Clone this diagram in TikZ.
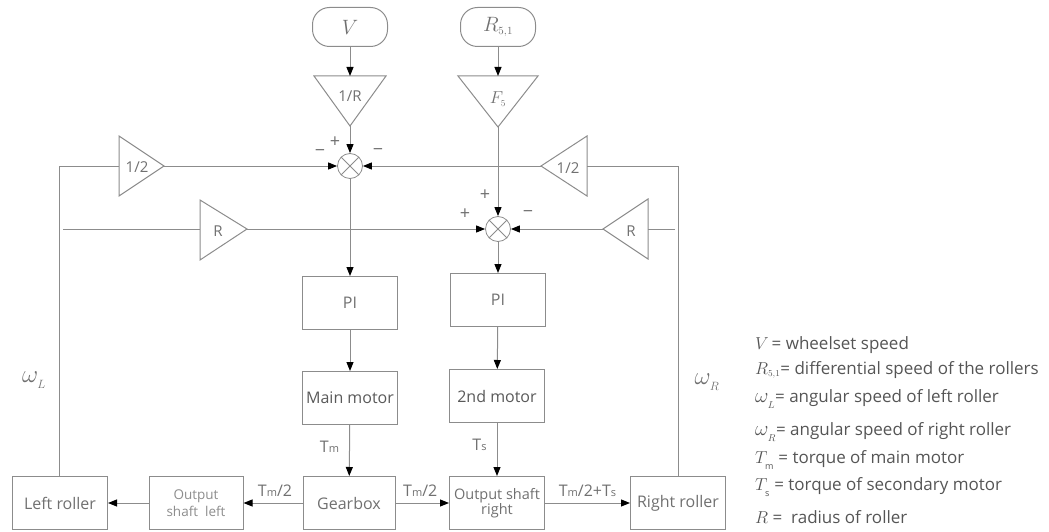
\documentclass[tikz,border=0pt]{standalone}
\usepackage{fontspec}
\setmainfont{Open Sans}
\usetikzlibrary{arrows.meta}
\definecolor{ln}{HTML}{8C8C8C}
\definecolor{tx}{HTML}{707070}
\definecolor{lg}{HTML}{555555}
\newcommand\fs[1]{\fontsize{#1}{#1}\selectfont}
\newcommand\omg[1]{$\omega_{\raisebox{-2pt}{$\scriptscriptstyle #1$}}$}
\begin{document}
\begin{tikzpicture}[x=1pt,y=-1pt,
  every node/.style={inner sep=0pt, text=tx},
  blk/.style={draw=ln, line width=1pt, minimum width=95pt, minimum height=53pt, align=center, font=\fs{16}},
  term/.style={draw=ln, line width=1pt, rounded corners=17pt, minimum width=75pt, minimum height=39pt, font=\fs{21}},
  sumj/.style={circle, draw=ln, line width=0.8pt, minimum size=25pt},
  wire/.style={draw=ln, line width=1pt},
  sig/.style={wire, -{Triangle[length=9pt,width=7pt,color=black]}},
  gain/.style={font=\fs{15}},
  sgn/.style={font=\fs{18}},
  lbl/.style={font=\fs{16}},
  leg/.style={anchor=west, text=lg, font=\fs{17}}]
\useasboundingbox (0,0) rectangle (1049,532);

% set-points
\node[term] (v) at (350,27) {$V$};
\node[term] (rs) at (498,27) {$R_{\scriptscriptstyle 5,1}$};

% gain triangles (drawn as outlines, text on top)
\draw[wire] (314,76) -- (386,76) -- (350,126) -- cycle;
\coordinate (ginvR-in) at (350,76); \coordinate (ginvR-out) at (350,126);
\node[gain] (tinvR) at (350,96) {1/R};

\draw[wire] (458,76) -- (538,76) -- (498,127) -- cycle;
\coordinate (gF-in) at (498,76); \coordinate (gF-out) at (498,127);
\node[font=\fs{19}] (tF) at (498,99) {$F_{\scriptscriptstyle 5}$};

\draw[wire] (119,136) -- (119,196) -- (164,166) -- cycle;
\coordinate (ghl-in) at (119,166); \coordinate (ghl-out) at (164,166);
\node[gain] (thl) at (137,167) {1/2};

\draw[wire] (200,200) -- (200,260) -- (247,229) -- cycle;
\coordinate (grl-in) at (200,229); \coordinate (grl-out) at (247,229);
\node[gain] (trl) at (218,231) {R};

\draw[wire] (587,136) -- (587,196) -- (541,166) -- cycle;
\coordinate (ghr-in) at (587,166); \coordinate (ghr-out) at (541,166);
\node[gain] (thr) at (568,168) {1/2};

\draw[wire] (648,199) -- (648,259) -- (603,229) -- cycle;
\coordinate (grr-in) at (648,229); \coordinate (grr-out) at (603,229);
\node[gain] (trr) at (631,231) {R};

% summing junctions
\node[sumj] (j1) at (350,166) {};
\node[sumj] (j2) at (498,229) {};
\foreach \j in {j1,j2}
  \draw[ln, line width=0.8pt] (\j.north west) -- (\j.south east) (\j.north east) -- (\j.south west);

\node[sgn] (p1) at (335,142) {+};
\node[sgn] (m1l) at (320,153) {−};
\node[sgn] (m1r) at (378,152) {−};
\node[sgn] (p2t) at (485,195) {+};
\node[sgn] (p2l) at (465,214) {+};
\node[sgn] (m2r) at (528,214) {−};

% controller and motors
\node[blk] (pi1) at (350,303) {PI};
\node[blk] (pi2) at (498,300) {PI};
\node[blk, text=black!65] (mm) at (350,398) {Main motor};
\node[blk, text=black!65] (sm) at (497,396) {2nd motor};

% drivetrain
\node[blk, minimum width=92pt] (gb) at (349,503) {Gearbox};
\node[blk, minimum width=94pt, font=\fs{13.5}, text=tx!80, align=center] (osl) at (196,503) {Output\\[2pt]shaft\ \ left};
\node[blk, font=\fs{14.5}] (osr) at (497,503) {Output shaft\\[1pt]right};
\node[blk] (lr) at (60,503) {Left roller};
\node[blk] (rr) at (678,503) {Right roller};

% line stubs that feed the R gains
\coordinate (ls) at (63,229);
\coordinate (rsb) at (675,229);

% forward paths
\draw[sig] (v) -- (ginvR-in);
\draw[sig] (rs) -- (gF-in);
\draw[sig] (ginvR-out) -- (j1);
\draw[sig] (gF-out) -- (j2);
\draw[sig] (j1) -- (pi1);
\draw[sig] (j2) -- (pi2);
\draw[sig] (pi1) -- (mm);
\draw[sig] (pi2) -- (sm);
\draw[sig] (mm) -- node[lbl, pos=0.42, left=10pt] (ltm) {T\fs{11}m} (gb);
\draw[sig] (sm) -- node[lbl, pos=0.42, left=10pt] (lts) {T\fs{11}s} (osr);
\draw[sig] (gb) -- node[lbl, above=6pt, xshift=2pt] (ltm2a) {T\fs{11}m\fs{16}/2} (osl);
\draw[sig] (osl) -- (lr);
\draw[sig] (gb) -- node[lbl, above=6pt, xshift=-2pt] (ltm2b) {T\fs{11}m\fs{16}/2} (osr);
\draw[sig] (osr) -- node[lbl, above=6pt] (ltms) {T\fs{11}m\fs{16}/2+T\fs{11}s} (rr);

% feedback paths
\draw[wire] (lr.north -| 59,0) -- (59,166) -- (ghl-in);
\draw[sig] (ghl-out) -- (j1);
\draw[wire] (ls) -- (grl-in);
\draw[sig] (grl-out) -- (j2);
\draw[wire] (rr.north) -- (678,166) -- (ghr-in);
\draw[sig] (ghr-out) -- (j1);
\draw[wire] (rsb) -- (grr-in);
\draw[sig] (grr-out) -- (j2);

\node[font=\fs{24}] (wl) at (34,380) {\omg{L}};
\node[font=\fs{24}] (wr) at (707,382) {\omg{R}};

% legend
\node[leg] (k1) at (755,345) {\fs{18}$V$\fs{17}\,= wheelset speed};
\node[leg] (k2) at (755,370) {\fs{18}$R_{\scriptscriptstyle 5,1}$\fs{17}= differential speed of the rollers};
\node[leg] (k3) at (755,399) {\fs{20}\omg{L}\fs{17}= angular speed of left roller};
\node[leg] (k4) at (755,432) {\fs{20}\omg{R}\fs{17}= angular speed of right roller};
\node[leg] (k5) at (755,460) {\fs{18}$T_{\raisebox{-4pt}{$\scriptscriptstyle\rm m$}}$\fs{17} = torque of main motor};
\node[leg] (k6) at (755,487) {\fs{18}$T_{\raisebox{-4pt}{$\scriptscriptstyle\rm s$}}$\fs{17} = torque of secondary motor};
\node[leg] (k7) at (755,517) {\fs{18}$R$\fs{17} =\ \ radius of roller};
\end{tikzpicture}
\end{document}
